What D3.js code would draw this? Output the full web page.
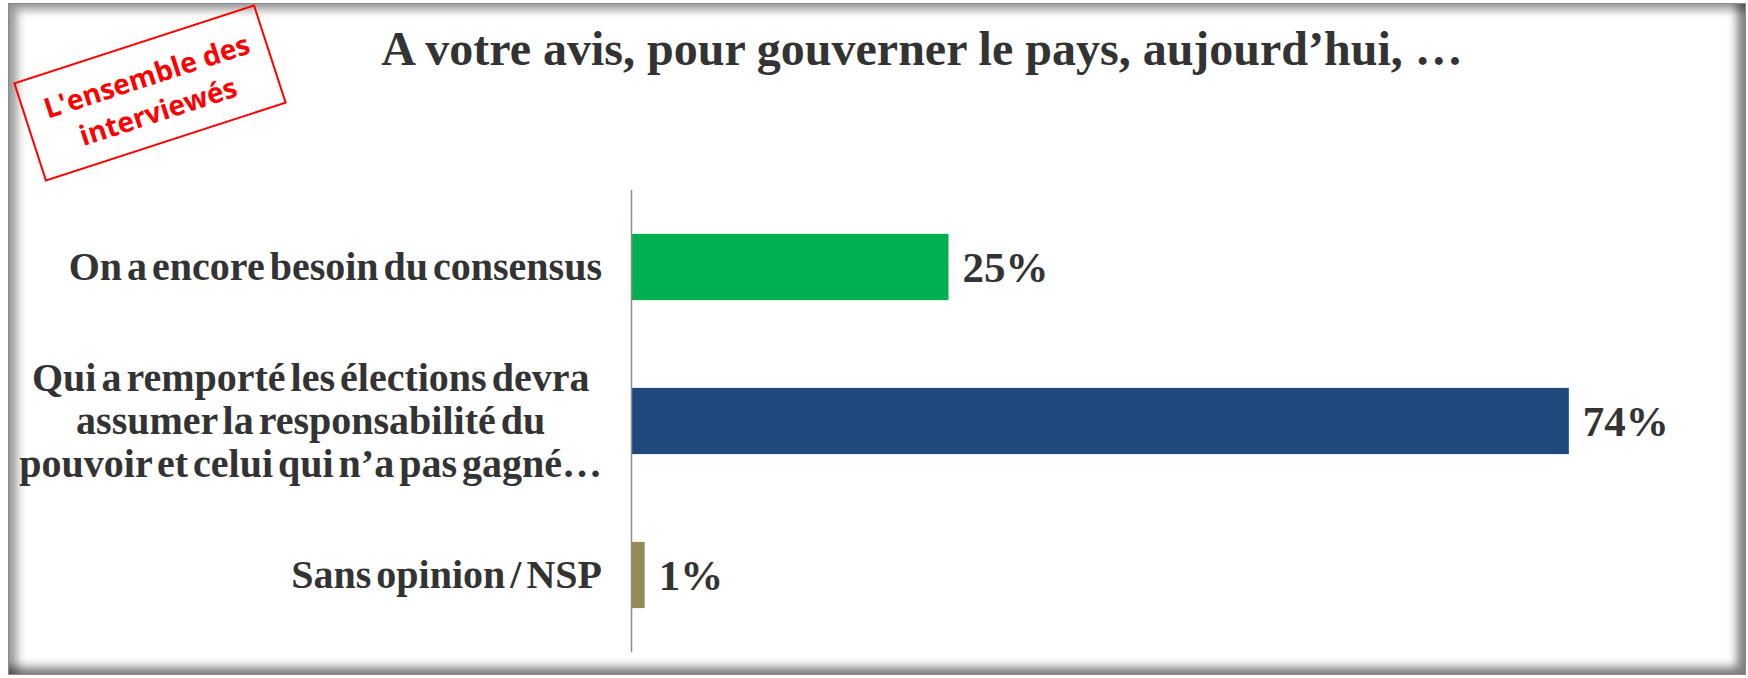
<!DOCTYPE html>
<html>
<head>
<meta charset="utf-8">
<script src="https://cdn.jsdelivr.net/npm/d3@7"></script>
<style>
  body { margin: 0; background: #fff; width: 1748px; height: 678px; overflow: hidden; position: relative; }
  #frame {
    position: absolute; left: 8px; top: 3px; width: 1736px; height: 670px;
    border: 1px solid #8a8a8a;
    box-shadow: inset 8px 6px 10px rgba(0,0,0,0.4), inset -8px -7px 10px rgba(0,0,0,0.5);
  }
  svg { position: absolute; left: 0; top: 0; }
  .title { font-family: "Liberation Serif", "Times New Roman", serif; font-weight: bold; font-size: 48px; fill: #333; }
  .cat { font-family: "Liberation Serif", "Times New Roman", serif; font-weight: bold; font-size: 40px; fill: #333; word-spacing: -5px; }
  .val { font-family: "Liberation Serif", "Times New Roman", serif; font-weight: bold; font-size: 43px; fill: #333; }
  .stamp { font-family: "Open Sans", "Lato", sans-serif; font-weight: bold; font-size: 28px; fill: #ff0000; }
</style>
</head>
<body>
<div id="frame"></div>
<script>
//Global variables
const width = 1748;
const height = 678;

//Data
const categories = [
  ["On a encore besoin  du consensus"],
  ["Qui a remporté les élections devra", "assumer  la responsabilité du", "pouvoir et celui qui n’a pas gagné…"],
  ["Sans opinion / NSP"]
];
const values = [25, 74, 1];
const barColors = ["#00b050", "#1f497d", "#948a54"];
const title = "A votre avis, pour gouverner le pays, aujourd’hui, …";
const stampLines = ["L'ensemble des", "interviewés"];

//SVG element
const svg = d3.select("body")
  .append("svg")
  .attr("width", width)
  .attr("height", height);

//Scales
const xScale = d3.scaleLinear()
  .domain([0, 100])
  .range([632, 632 + 1266]);

const yScale = d3.scaleBand()
  .domain(d3.range(values.length))
  .range([190, 652])
  .paddingInner(0.57)
  .paddingOuter(0.285);

//Bars
svg.selectAll(".bar")
  .data(values)
  .enter()
  .append("rect")
  .attr("class", "bar")
  .attr("x", xScale(0))
  .attr("y", (d, i) => yScale(i))
  .attr("width", d => xScale(d) - xScale(0))
  .attr("height", yScale.bandwidth())
  .attr("fill", (d, i) => barColors[i]);

//Vertical axis line
svg.append("line")
  .attr("x1", xScale(0) - 0.5)
  .attr("x2", xScale(0) - 0.5)
  .attr("y1", yScale.range()[0])
  .attr("y2", yScale.range()[1])
  .attr("stroke", "#8c8c8c")
  .attr("stroke-width", 1.5);

//Value labels
svg.selectAll(".val")
  .data(values)
  .enter()
  .append("text")
  .attr("class", "val")
  .attr("x", d => xScale(d) + 14)
  .attr("y", (d, i) => yScale(i) + yScale.bandwidth() / 2 + 15)
  .text(d => d + "%");

//Category labels, block right-aligned, lines centred inside the block
const labelRight = 602;
const lineH = 43;
categories.forEach((lines, i) => {
  const cy = yScale(i) + yScale.bandwidth() / 2;
  const g = svg.append("g");
  const texts = g.selectAll("text")
    .data(lines)
    .enter()
    .append("text")
    .attr("class", "cat")
    .attr("text-anchor", "middle")
    .attr("y", (d, j) => cy + 13 + (j - (lines.length - 1) / 2) * lineH)
    .text(d => d);
  let maxW = 0;
  texts.each(function() { maxW = Math.max(maxW, this.getComputedTextLength()); });
  texts.attr("x", labelRight - maxW / 2);
});

//Title
svg.append("text")
  .attr("class", "title")
  .attr("x", 922)
  .attr("y", 65)
  .attr("text-anchor", "middle")
  .text(title);

//Red stamp
const stamp = svg.append("g")
  .attr("transform", "translate(150,93) rotate(-18)");

stamp.append("rect")
  .attr("x", -126)
  .attr("y", -51)
  .attr("width", 252)
  .attr("height", 102)
  .attr("fill", "none")
  .attr("stroke", "#ff0000")
  .attr("stroke-width", 2);

stamp.selectAll("text")
  .data(stampLines)
  .enter()
  .append("text")
  .attr("class", "stamp")
  .attr("text-anchor", "middle")
  .attr("x", 2)
  .attr("y", (d, i) => -7 + i * 37)
  .text(d => d);
</script>
</body>
</html>
